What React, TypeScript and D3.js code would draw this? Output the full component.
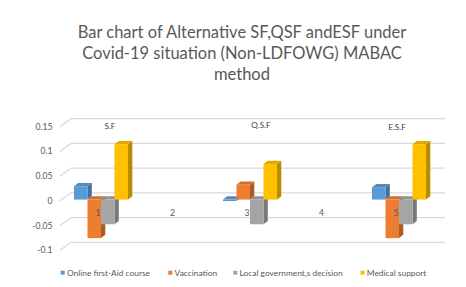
import React from "react";
import * as d3 from "d3";

const categories = ["1", "2", "3", "4", "5"];
const seriesNames = ["Online first-Aid course", "Vaccination", "Local government,s decision", "Medical support"];
const seriesColors = ["#5B9BD5", "#ED7D31", "#A5A5A5", "#FFC000"];
// values per category (null = no bar)
const onlineFirstAid = [0.027, null, -0.003, null, 0.025];
const vaccination = [-0.078, null, 0.03, null, -0.078];
const localGov = [-0.05, null, -0.05, null, -0.05];
const medicalSupport = [0.112, null, 0.072, null, 0.112];
const yTicks = [-0.1, -0.05, 0, 0.05, 0.1, 0.15];
const annotations = [
  { cat: "1", text: "S.F" },
  { cat: "3", text: "Q.S.F" },
  { cat: "5", text: "E.S.F" },
];
const titleLines = ["Bar chart of Alternative SF,QSF andESF under", "Covid-19 situation (Non-LDFOWG) MABAC", "method"];

const W = 466, H = 287;
const FONT = "Lato, 'Liberation Sans', sans-serif";
const TXT = "#595959";

export default function App() {
  const series = [onlineFirstAid, vaccination, localGov, medicalSupport];
  const y = d3.scaleLinear().domain([-0.1, 0.15]).range([250.3, 126.7]);
  const x = d3.scaleBand().domain(categories).range([63.75, 436.25]);
  const inner = d3.scaleBand().domain(d3.range(4).map(String)).range([-27, 27]);
  const backDx = 11, backDy = -8;
  const gridRight = 445;
  const barShift = -1.3;
  const ddx = 4.3, ddy = -3.3;
  const annOffsets: Record<string, [number, number]> = { "1": [9, 125.5], "3": [11, 125], "5": [-2, 127] };

  const bars: any[] = [];
  categories.forEach((c, ci) => {
    series.forEach((s, si) => {
      const v = s[ci];
      if (v == null) return;
      const cx = (x(c) as number) + x.bandwidth() / 2;
      const x0 = cx + (inner(String(si)) as number);
      const w = inner.bandwidth();
      const yv = y(v) + barShift;
      const y0 = y(0) + barShift;
      const top = Math.min(yv, y0), bot = Math.max(yv, y0);
      bars.push({ key: c + si, x0, w, top, bot, color: seriesColors[si] });
    });
  });

  return (
    <svg width={W} height={H} style={{ position: "absolute", left: 0, top: 0, background: "#fff" }}>
      <rect width={W} height={H} fill="#fff" />
      {titleLines.map((t, i) => (
        <text key={i} x={242} y={32 + i * 21} textAnchor="middle" dominantBaseline="central"
          fontFamily={FONT} fontSize={16.5} fill={TXT}>{t}</text>
      ))}
      {yTicks.map((t) => (
        <g key={t}>
          <polyline points={`60,${y(t)} ${60 + backDx},${y(t) + backDy} ${gridRight},${y(t) + backDy}`}
            fill="none" stroke="#D9D9D9" strokeWidth={1.2} />
          <text x={52.5} y={y(t)} textAnchor="end" dominantBaseline="central" fontFamily={FONT}
            fontSize={8.6} fill={TXT}>{t === 0 ? "0" : String(t)}</text>
        </g>
      ))}
      {bars.map((b) => {
        const c = d3.color(b.color)!;
        const side = c.darker(0.9).formatHex();
        const topC = c.darker(0.35).formatHex();
        const { x0, w, top, bot } = b;
        return (
          <g key={b.key}>
            <polygon points={`${x0 + w},${top} ${x0 + w + ddx},${top + ddy} ${x0 + w + ddx},${bot + ddy} ${x0 + w},${bot}`} fill={side} />
            <polygon points={`${x0},${top} ${x0 + ddx},${top + ddy} ${x0 + w + ddx},${top + ddy} ${x0 + w},${top}`} fill={topC} />
            <rect x={x0} y={top} width={w} height={Math.max(bot - top, 0.5)} fill={b.color} />
          </g>
        );
      })}
      {categories.map((c) => (
        <text key={c} x={(x(c) as number) + x.bandwidth() / 2 - 3} y={212.7} textAnchor="middle"
          dominantBaseline="central" fontFamily={FONT} fontSize={8.6} fill={TXT}>{c}</text>
      ))}
      {annotations.map((a) => (
        <text key={a.text} x={(x(a.cat) as number) + x.bandwidth() / 2 + annOffsets[a.cat][0]}
          y={annOffsets[a.cat][1]} textAnchor="middle" dominantBaseline="central" fontFamily={FONT}
          fontSize={8.2} fill="#404040">{a.text}</text>
      ))}
      {(() => {
        const legX = [60.7, 168.3, 233.3, 360.5];
        return seriesNames.map((n, i) => (
          <g key={n}>
            <rect x={legX[i]} y={270.7} width={4} height={4} fill={seriesColors[i]} />
            <text x={legX[i] + 6.3} y={272.7} dominantBaseline="central" fontFamily={FONT} fontSize={8.4} fill={TXT}>{n}</text>
          </g>
        ));
      })()}
    </svg>
  );
}
